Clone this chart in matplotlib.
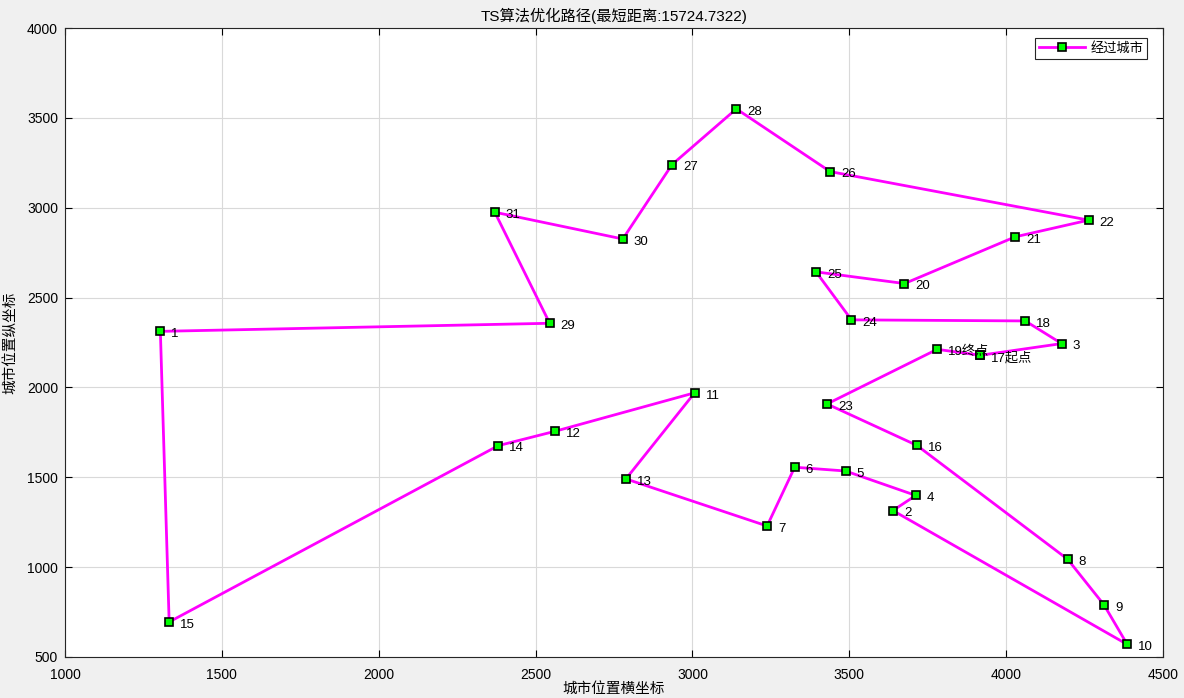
import matplotlib
matplotlib.use("Agg")
import matplotlib.pyplot as plt

plt.rcParams['font.family'] = ['Liberation Sans', 'Noto Sans CJK SC', 'DejaVu Sans']

city_x = [1304, 3639, 4177, 3712, 3488, 3326, 3238, 4196, 4312, 4386, 3007, 2562, 2788, 2381, 1332, 3715,
          3918, 4061, 3780, 3676, 4029, 4263, 3429, 3507, 3394, 3439, 2935, 3140, 2545, 2778, 2370]
city_y = [2312, 1315, 2244, 1399, 1535, 1556, 1229, 1044, 790, 570, 1970, 1756, 1491, 1676, 695, 1678,
          2179, 2370, 2212, 2578, 2838, 2931, 1908, 2376, 2643, 3201, 3240, 3550, 2357, 2826, 2975]
route = [17, 3, 18, 24, 25, 20, 21, 22, 26, 28, 27, 30, 31, 29, 1, 15, 14, 12, 11, 13, 7, 6, 5, 4, 2,
         10, 9, 8, 16, 23, 19]
start_city = 17
end_city = 19
title = "TS算法优化路径(最短距离:15724.7322)"

fig = plt.figure(figsize=(11.84, 6.98), dpi=100, facecolor='#f0f0f0')
ax = fig.add_axes([65/1184, 1-657/698, (1163-65)/1184, (657-28)/698])

path = route + [route[0]]
px = [city_x[i-1] for i in path]
py = [city_y[i-1] for i in path]
ax.plot(px, py, '-s', color='#ff00ff', lw=2, marker='s', ms=5.5, mfc='#00ff00', mec='black', mew=1.2,
        label='经过城市', zorder=3)

for i in range(len(city_x)):
    n = i + 1
    txt = str(n)
    if n == start_city:
        txt += '起点'
    elif n == end_city:
        txt += '终点'
    ax.text(city_x[i] + 35, city_y[i] - 15, txt, fontsize=9.5, va='center', ha='left',
            family=['Liberation Sans', 'Noto Sans CJK SC'], zorder=4)

ax.set_xlim(1000, 4500)
ax.set_ylim(500, 4000)
ax.set_xticks(range(1000, 4501, 500))
ax.set_yticks(range(500, 4001, 500))
ax.grid(True, color='#d9d9d9', lw=0.8)
ax.set_axisbelow(True)
ax.tick_params(direction='in', top=True, right=True, labelsize=10, length=5)
ax.tick_params(axis='x', pad=8)
ax.tick_params(axis='y', pad=5)
for s in ax.spines.values():
    s.set_color('#262626')
    s.set_linewidth(0.8)
ax.set_title(title, fontsize=11, pad=5)
fig.text((65 + 1163) / 2 / 1184, 2 / 698, '城市位置横坐标', fontsize=10.5,
         family=['Noto Sans CJK SC'], ha='center', va='bottom')
ax.set_ylabel('城市位置纵坐标', fontsize=10.5, family=['Noto Sans CJK SC'], labelpad=6)
leg = ax.legend(loc='upper right', prop={'family': ['Noto Sans CJK SC'], 'size': 9.5},
                fancybox=False, edgecolor='#262626', framealpha=1, borderpad=0.3, handlelength=3.5,
                handletextpad=0.4, bbox_to_anchor=(0.9918, 0.995))
leg.get_frame().set_linewidth(0.8)

fig.savefig('out.png', dpi=100, facecolor=fig.get_facecolor())
